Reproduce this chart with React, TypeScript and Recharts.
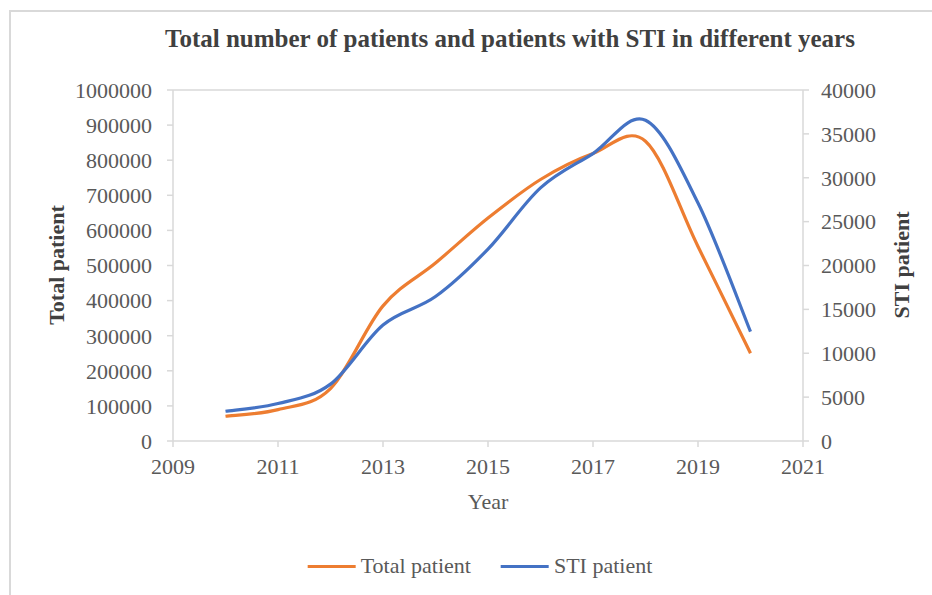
import React from 'react';
import { LineChart, Line, XAxis, YAxis, ReferenceLine } from 'recharts';

const years = [2010, 2011, 2012, 2013, 2014, 2015, 2016, 2017, 2018, 2019, 2020];
const totalPatients = [70500, 89500, 149500, 385000, 507000, 635000, 745000, 819000, 854000, 554000, 250000];
const stiPatients = [3390, 4270, 6480, 13220, 16460, 21870, 28840, 32760, 36550, 27120, 12460];
const xTicks = [2009, 2011, 2013, 2015, 2017, 2019, 2021];
const leftTicks = [0, 100000, 200000, 300000, 400000, 500000, 600000, 700000, 800000, 900000, 1000000];
const rightTicks = [0, 5000, 10000, 15000, 20000, 25000, 30000, 35000, 40000];
const seriesNames = ['Total patient', 'STI patient'];
const colors = ['#ED7D31', '#4472C4'];

const data = years.map((y, i) => ({ year: y, total: totalPatients[i], sti: stiPatients[i] }));

// Excel-like smoothing (uniform Catmull-Rom as cubic Bezier)
const excelSmooth = (context: any) => {
  let pts: number[][] = [];
  return {
    areaStart() {},
    areaEnd() {},
    lineStart() { pts = []; },
    point(x: number, y: number) { pts.push([+x, +y]); },
    lineEnd() {
      const n = pts.length;
      if (!n) return;
      context.moveTo(pts[0][0], pts[0][1]);
      for (let i = 0; i < n - 1; i++) {
        const p0 = pts[i - 1] || pts[i];
        const p1 = pts[i];
        const p2 = pts[i + 1];
        const p3 = pts[i + 2] || p2;
        context.bezierCurveTo(
          p1[0] + (p2[0] - p0[0]) / 6, p1[1] + (p2[1] - p0[1]) / 6,
          p2[0] - (p3[0] - p1[0]) / 6, p2[1] - (p3[1] - p1[1]) / 6,
          p2[0], p2[1]
        );
      }
    },
  };
};

const serif = '"Liberation Serif", "Times New Roman", serif';
const tickStyle = { fill: '#595959', fontSize: 22, fontFamily: serif };
const axisLine = { stroke: '#d9d9d9', strokeWidth: 1.5 };

export default function App() {
  return (
    <div style={{ position: 'absolute', left: 0, top: 0, width: 932, height: 595, background: '#fff', overflow: 'hidden', fontFamily: serif }}>
      <div style={{ position: 'absolute', left: 9, top: 10, width: 1000, height: 700, border: '2px solid #d9d9d9', boxSizing: 'border-box' }} />
      <div style={{ position: 'absolute', left: 0, width: 1020, top: 25, textAlign: 'center', fontSize: 25, fontWeight: 'bold', color: '#404040' }}>
        Total number of patients and patients with STI in different years
      </div>
      <div style={{ position: 'absolute', left: 57, top: 265, transform: 'translate(-50%, -50%) rotate(-90deg)', whiteSpace: 'nowrap', fontSize: 22, fontWeight: 'bold', color: '#404040' }}>
        Total patient
      </div>
      <div style={{ position: 'absolute', left: 902, top: 265, transform: 'translate(-50%, -50%) rotate(-90deg)', whiteSpace: 'nowrap', fontSize: 22, fontWeight: 'bold', color: '#404040' }}>
        STI patient
      </div>
      <div style={{ position: 'absolute', left: 488, top: 502, transform: 'translate(-50%, -50%)', whiteSpace: 'nowrap', fontSize: 22, color: '#595959' }}>
        Year
      </div>
      <div style={{ position: 'absolute', left: 480, top: 566, transform: 'translate(-50%, -50%)', display: 'flex', alignItems: 'center', whiteSpace: 'nowrap', fontSize: 22, color: '#595959' }}>
        {seriesNames.map((n, i) => (
          <div key={n} style={{ display: 'flex', alignItems: 'center', marginLeft: i ? 30 : 0 }}>
            <div style={{ width: 48, height: 3, background: colors[i], marginRight: 5 }} />
            <span>{n}</span>
          </div>
        ))}
      </div>
      <div style={{ position: 'absolute', left: 0, top: 0 }}>
        <LineChart width={932} height={595} data={data} margin={{ top: 90, right: 29, bottom: 94, left: 73 }}>
          <XAxis
            dataKey="year"
            type="number"
            domain={[2009, 2021]}
            ticks={xTicks}
            tick={tickStyle}
            tickSize={6}
            tickMargin={11}
            axisLine={axisLine}
            tickLine={axisLine}
            height={60}
            interval={0}
          />
          <YAxis
            yAxisId="left"
            domain={[0, 1000000]}
            ticks={leftTicks}
            tick={tickStyle}
            tickSize={6}
            tickMargin={15}
            axisLine={axisLine}
            tickLine={axisLine}
            width={100}
            interval={0}
          />
          <YAxis
            yAxisId="right"
            orientation="right"
            domain={[0, 40000]}
            ticks={rightTicks}
            tick={tickStyle}
            tickSize={6}
            tickMargin={12}
            axisLine={axisLine}
            tickLine={axisLine}
            width={100}
            interval={0}
          />
          <ReferenceLine yAxisId="left" y={1000000} stroke="#d9d9d9" strokeWidth={1.5} />
          <Line yAxisId="left" dataKey="total" name={seriesNames[0]} type={excelSmooth as any} stroke={colors[0]} strokeWidth={3.2} dot={false} isAnimationActive={false} />
          <Line yAxisId="right" dataKey="sti" name={seriesNames[1]} type={excelSmooth as any} stroke={colors[1]} strokeWidth={3.2} dot={false} isAnimationActive={false} />
        </LineChart>
      </div>
    </div>
  );
}
